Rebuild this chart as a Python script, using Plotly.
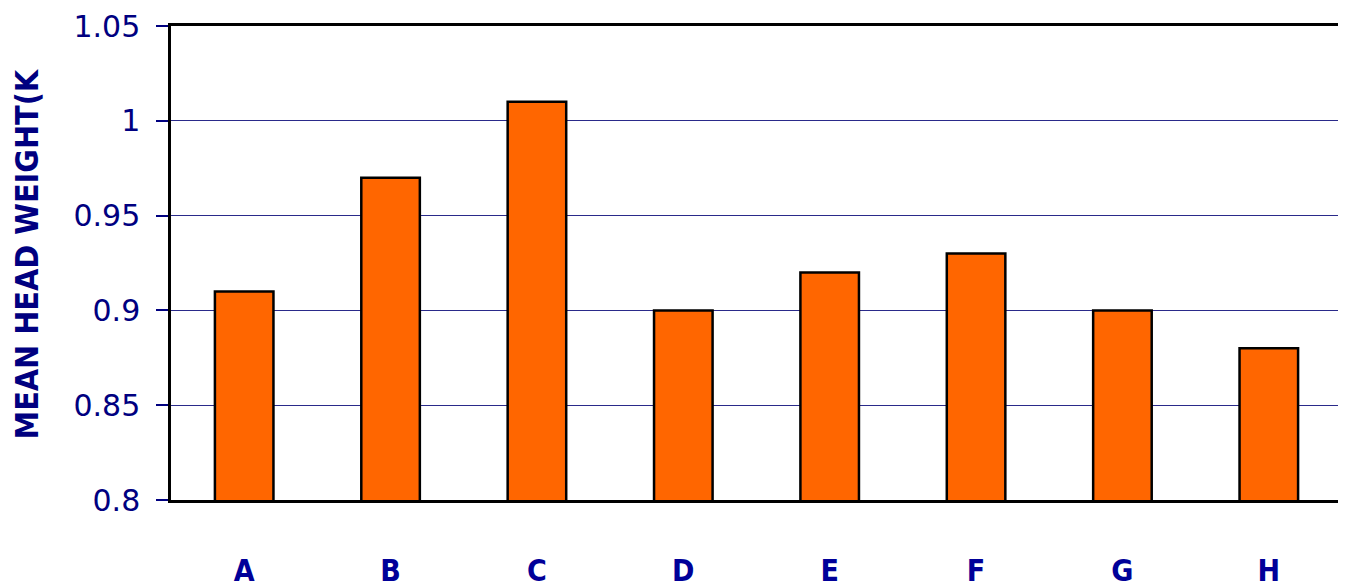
import plotly.graph_objects as go

categories = ["A", "B", "C", "D", "E", "F", "G", "H"]
values = [0.91, 0.97, 1.01, 0.90, 0.92, 0.93, 0.90, 0.88]
y_ticks = [0.8, 0.85, 0.9, 0.95, 1.0, 1.05]
y_tick_labels = ["0.8", "0.85", "0.9", "0.95", "1", "1.05"]

NAVY = "#000080"

fig = go.Figure()
fig.add_trace(go.Bar(
    x=categories, y=values,
    marker=dict(color="#FF6600", line=dict(color="#000000", width=2.5)),
    width=0.4,
))

L, R, T, B = 163, 12, 18, 96
W, H = 1346, 588
pw, ph = W - L - R, H - T - B

fig.update_layout(
    width=W, height=H,
    margin=dict(l=L, r=R, t=T, b=B),
    paper_bgcolor="white", plot_bgcolor="white",
    showlegend=False,
    xaxis=dict(
        showgrid=False, showline=True, linecolor="black", linewidth=2.5, mirror=True,
        ticks="", automargin=False,
        tickvals=categories, ticktext=["<b>%s</b>" % c for c in categories],
        tickfont=dict(family="DejaVu Sans Condensed", size=30, color="#000099"),
        ticklabelstandoff=42,
    ),
    yaxis=dict(
        range=[0.8, 1.05], tickvals=y_ticks, ticktext=y_tick_labels,
        showgrid=True, gridcolor="#2a2a8a", gridwidth=1, automargin=False,
        showline=True, linecolor="black", linewidth=2.5, mirror=True,
        ticks="outside", ticklen=12, tickcolor=NAVY, tickwidth=1.5,
        tickfont=dict(family="DejaVu Sans", size=30, color=NAVY),
        ticklabelstandoff=10,
        zeroline=False,
    ),
    annotations=[dict(
        text="<b>MEAN HEAD WEIGHT(K</b>", textangle=-90,
        xref="paper", yref="paper", x=(18 - L) / pw, y=(H - B - 434) / ph,
        xanchor="center", yanchor="bottom", showarrow=False,
        font=dict(family="DejaVu Sans Condensed", size=32, color=NAVY),
    )],
)

fig.write_html("out.html")
